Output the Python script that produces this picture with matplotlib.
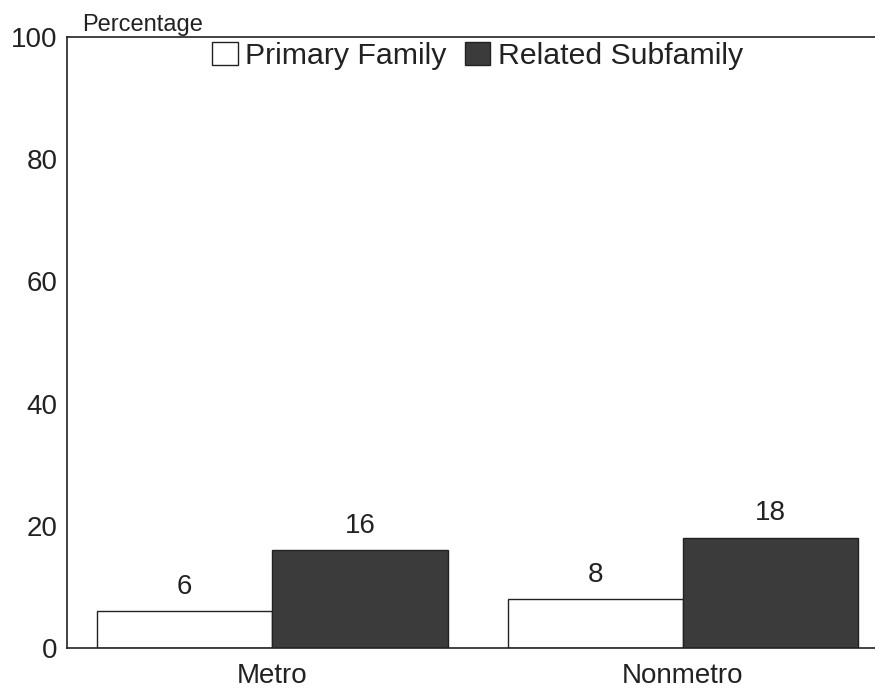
import matplotlib
matplotlib.use("Agg")
import matplotlib.pyplot as plt
from matplotlib.patches import Patch
import numpy as np

categories = ["Metro", "Nonmetro"]
series_names = ["Primary Family", "Related Subfamily"]
primary_family = [6, 8]
related_subfamily = [16, 18]
y_ticks = [0, 20, 40, 60, 80, 100]

plt.rcParams["font.family"] = ["Liberation Sans", "DejaVu Sans"]

fig = plt.figure(figsize=(8.75, 6.91), dpi=100)
ax = fig.add_axes([67 / 875, 43 / 691, 808 / 875, 611 / 691])

x = np.arange(len(categories))
width = 0.427
face_colors = ["white", "#3b3b3b"]
ink = "#222222"

for i, (vals, col) in enumerate(zip([primary_family, related_subfamily], face_colors)):
    offs = (i - 0.5) * width
    ax.bar(x + offs, vals, width, color=col, edgecolor=ink, linewidth=1.0)
    for xi, v in zip(x + offs, vals):
        ax.text(xi, v + 1.9, f"{v}", ha="center", va="bottom", fontsize=20, color=ink)

ax.set_xlim(-0.5, 1.468)
ax.set_ylim(0, 100)
ax.set_yticks(y_ticks)
ax.set_xticks(x)
ax.set_xticklabels(categories)
ax.tick_params(axis="both", length=0, labelsize=20, colors=ink)
ax.tick_params(axis="y", pad=7)
ax.tick_params(axis="x", pad=11)

for side in ["left", "bottom", "top"]:
    ax.spines[side].set_linewidth(1.2)
    ax.spines[side].set_color(ink)
ax.spines["right"].set_visible(False)

fig.text(82 / 875, 1 - 31 / 691, "Percentage", fontsize=17, color=ink,
         ha="left", va="baseline")

handles = [Patch(facecolor=c, edgecolor=ink, linewidth=1.0) for c in face_colors]
ax.legend(handles, series_names, loc="upper center", bbox_to_anchor=(0.508, 1.019),
          ncol=2, frameon=False, fontsize=21.8, handlelength=0.85, handleheight=0.8,
          handletextpad=0.25, columnspacing=0.6, borderpad=0.05, labelcolor=ink)

fig.savefig("out.png", dpi=100, facecolor="white")
